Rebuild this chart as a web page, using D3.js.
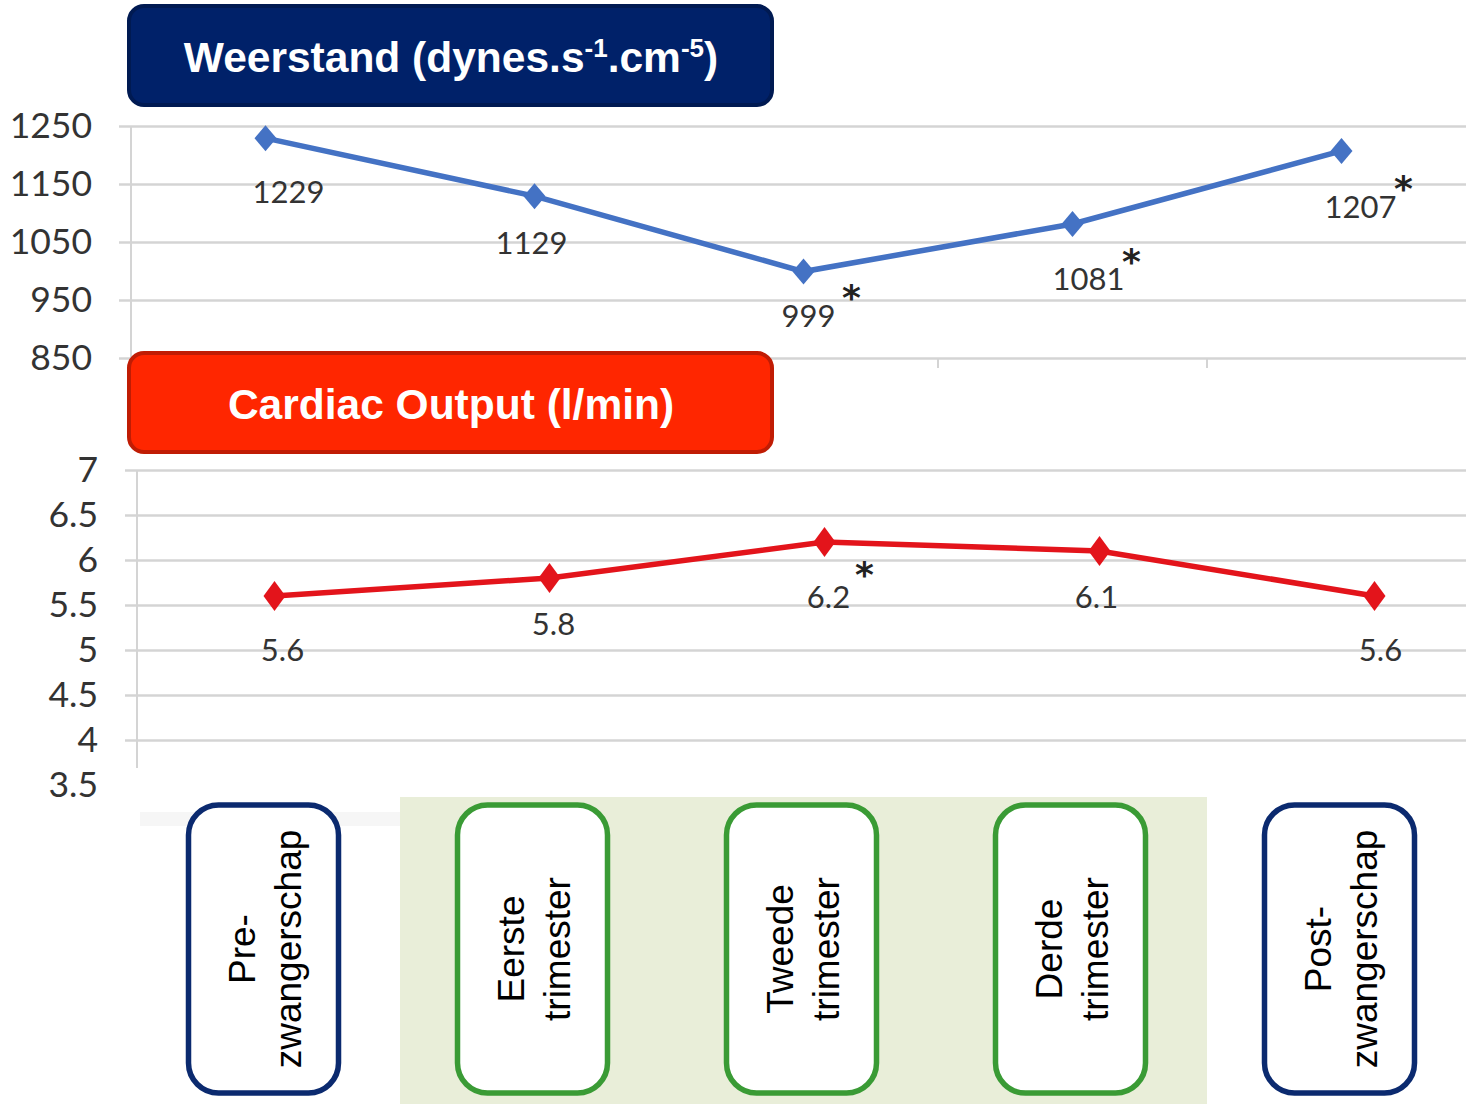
<!DOCTYPE html>
<html lang="nl">
<head>
<meta charset="utf-8">
<title>Weerstand en Cardiac Output</title>
<script src="https://d3js.org/d3.v7.min.js"></script>
<style>
  html, body { margin: 0; padding: 0; background: #fff; }
  .tick text { font-family: Lato, "Open Sans", sans-serif; font-size: 35.5px; fill: #333; }
  .lbl { font-family: Lato, "Open Sans", sans-serif; font-size: 31px; fill: #333; }
  .star { font-family: "DejaVu Sans", sans-serif; font-size: 36px; font-weight: bold; fill: #222; }
  .title { font-family: "Liberation Sans", Arial, sans-serif; font-weight: bold; font-size: 42.5px; fill: #fff; }
  .phase { font-family: "Liberation Sans", Arial, sans-serif; font-size: 37px; fill: #000; }
</style>
</head>
<body>
<svg id="chart" width="1466" height="1104"></svg>
<script>
// categories
var phases = ["Pre-zwangerschap", "Eerste trimester", "Tweede trimester", "Derde trimester", "Post-zwangerschap"];
var phaseLines = [["Pre-", "zwangerschap"], ["Eerste", "trimester"], ["Tweede", "trimester"], ["Derde", "trimester"], ["Post-", "zwangerschap"]];
var pregnant = [false, true, true, true, false];

// series
var weerstand = [1229, 1129, 999, 1081, 1207];
var weerstandSig = [false, false, true, true, true];
var output = [5.6, 5.8, 6.2, 6.1, 5.6];
var outputSig = [false, false, true, false, false];

// ticks
var weerstandTicks = [850, 950, 1050, 1150, 1250];
var outputTicks = [4, 4.5, 5, 5.5, 6, 6.5, 7];
var outputTickLabels = [3.5, 4, 4.5, 5, 5.5, 6, 6.5, 7];

var svg = d3.select("#chart");
var W = 1466;

// label nudges (layout only)
var topNudge = [[23, 53], [-3, 46], [5, 43], [16, 54], [19, 55]];
var botNudge = [[8, 53], [4, 45], [4, 54], [-3, 45], [6, 53]];

// ---------- top chart ----------
var x1 = d3.scaleBand().domain(phases).range([131, 1476]);
var y1 = d3.scaleLinear().domain([850, 1250]).range([358, 126]);

var g1 = svg.append("g");

// gridlines + tick labels
g1.append("g")
  .attr("transform", "translate(" + W + ",0)")
  .call(d3.axisLeft(y1).tickValues(weerstandTicks).tickSize(W - 119).tickPadding(27).tickFormat(d3.format("d")))
  .call(function(g) {
    g.select(".domain").remove();
    g.selectAll(".tick line").attr("stroke", "#d4d4d4").attr("stroke-width", 2.5);
  });

g1.append("line")
  .attr("x1", 131).attr("x2", 131).attr("y1", y1(1250)).attr("y2", y1(850))
  .attr("stroke", "#d4d4d4").attr("stroke-width", 2);

// category ticks below baseline
g1.selectAll(".xt").data(d3.range(phases.length + 1)).enter().append("line")
  .attr("x1", function(i) { return 131 + i * x1.bandwidth(); })
  .attr("x2", function(i) { return 131 + i * x1.bandwidth(); })
  .attr("y1", y1(850)).attr("y2", y1(850) + 10)
  .attr("stroke", "#d4d4d4").attr("stroke-width", 2);

var cx1 = function(i) { return x1(phases[i]) + x1.bandwidth() / 2; };

g1.append("path")
  .datum(weerstand)
  .attr("fill", "none")
  .attr("stroke", "#4472c4")
  .attr("stroke-width", 5.5)
  .attr("d", d3.line().x(function(d, i) { return cx1(i); }).y(function(d) { return y1(d); }));

g1.selectAll(".mk").data(weerstand).enter().append("path")
  .attr("d", "M0,-13L11,0L0,13L-11,0Z")
  .attr("fill", "#4472c4")
  .attr("transform", function(d, i) { return "translate(" + cx1(i) + "," + y1(d) + ")"; });

g1.selectAll(".lb").data(weerstand).enter().append("text")
  .attr("class", "lbl")
  .attr("text-anchor", "middle")
  .attr("dominant-baseline", "central")
  .attr("x", function(d, i) { return cx1(i) + topNudge[i][0]; })
  .attr("y", function(d, i) { return y1(d) + topNudge[i][1]; })
  .text(function(d) { return d; });

weerstand.forEach(function(d, i) {
  if (!weerstandSig[i]) return;
  g1.append("text")
    .attr("class", "star")
    .attr("text-anchor", "middle")
    .attr("dominant-baseline", "central")
    .attr("x", cx1(i) + topNudge[i][0] + 43)
    .attr("y", y1(d) + topNudge[i][1] - 17)
    .text("*");
});

// ---------- bottom chart ----------
var x2 = d3.scaleBand().domain(phases).range([137, 1512]);
var y2 = d3.scaleLinear().domain([3.5, 7]).range([785, 470]);

var g2 = svg.append("g");

g2.append("g")
  .attr("transform", "translate(" + W + ",0)")
  .call(d3.axisLeft(y2).tickValues(outputTickLabels).tickSize(W - 125).tickPadding(27).tickFormat(d3.format("")))
  .call(function(g) {
    g.select(".domain").remove();
    g.selectAll(".tick line").attr("stroke", "#d4d4d4").attr("stroke-width", 2.5)
      .attr("display", function(d) { return outputTicks.indexOf(d) < 0 ? "none" : null; });
  });

g2.append("line")
  .attr("x1", 137).attr("x2", 137).attr("y1", y2(7)).attr("y2", 768)
  .attr("stroke", "#d4d4d4").attr("stroke-width", 2);

var cx2 = function(i) { return x2(phases[i]) + x2.bandwidth() / 2; };

g2.append("path")
  .datum(output)
  .attr("fill", "none")
  .attr("stroke", "#e3141b")
  .attr("stroke-width", 5.5)
  .attr("d", d3.line().x(function(d, i) { return cx2(i); }).y(function(d) { return y2(d); }));

g2.selectAll(".mk").data(output).enter().append("path")
  .attr("d", "M0,-15L11,0L0,15L-11,0Z")
  .attr("fill", "#e3141b")
  .attr("transform", function(d, i) { return "translate(" + cx2(i) + "," + y2(d) + ")"; });

g2.selectAll(".lb").data(output).enter().append("text")
  .attr("class", "lbl")
  .attr("text-anchor", "middle")
  .attr("dominant-baseline", "central")
  .attr("x", function(d, i) { return cx2(i) + botNudge[i][0]; })
  .attr("y", function(d, i) { return y2(d) + botNudge[i][1]; })
  .text(function(d) { return d; });

output.forEach(function(d, i) {
  if (!outputSig[i]) return;
  g2.append("text")
    .attr("class", "star")
    .attr("text-anchor", "middle")
    .attr("dominant-baseline", "central")
    .attr("x", cx2(i) + botNudge[i][0] + 36)
    .attr("y", y2(d) + botNudge[i][1] - 22)
    .text("*");
});

// ---------- phase boxes ----------
var pregIdx = pregnant.map(function(p, i) { return p ? i : -1; }).filter(function(i) { return i >= 0; });
var bandLeft = x1(phases[pregIdx[0]]);
var bandRight = x1(phases[pregIdx[pregIdx.length - 1]]) + x1.bandwidth();

svg.append("rect")
  .attr("x", 140).attr("y", 812).attr("width", bandLeft - 140).attr("height", 14)
  .attr("fill", "#f6f6f6");

svg.append("rect")
  .attr("x", bandLeft).attr("y", 797).attr("width", bandRight - bandLeft).attr("height", 1104 - 797)
  .attr("fill", "#e9eed9");

var boxes = svg.selectAll(".phase-box").data(phases).enter().append("g")
  .attr("transform", function(d, i) { return "translate(" + (cx1(i) - 2) + ",949)"; });

boxes.append("rect")
  .attr("x", -75).attr("y", -144).attr("width", 150).attr("height", 288)
  .attr("rx", 30).attr("ry", 30)
  .attr("fill", "#fff")
  .attr("stroke", function(d, i) { return pregnant[i] ? "#3a9b35" : "#0b2a6f"; })
  .attr("stroke-width", 5.5);

var pt = boxes.append("text")
  .attr("class", "phase")
  .attr("text-anchor", "middle")
  .attr("transform", "rotate(-90)");

pt.selectAll("tspan").data(function(d, i) { return phaseLines[i]; }).enter().append("tspan")
  .attr("x", 0)
  .attr("y", function(d, j) { return j === 0 ? -9 : 37; })
  .text(function(d) { return d; });

// ---------- title boxes ----------
function titleBox(y, fill, stroke) {
  svg.append("rect")
    .attr("x", 129).attr("y", y).attr("width", 643).attr("height", 99)
    .attr("rx", 15).attr("ry", 15)
    .attr("fill", fill).attr("stroke", stroke).attr("stroke-width", 4);
}

titleBox(6, "#002169", "#001a52");
var t1 = svg.append("text").attr("class", "title").attr("x", 451).attr("y", 72).attr("text-anchor", "middle");
t1.append("tspan").text("Weerstand (dynes.s");
t1.append("tspan").attr("dy", -15).attr("font-size", 26).text("-1");
t1.append("tspan").attr("dy", 15).text(".cm");
t1.append("tspan").attr("dy", -15).attr("font-size", 26).text("-5");
t1.append("tspan").attr("dy", 15).text(")");

titleBox(353, "#ff2600", "#c01c04");
svg.append("text").attr("class", "title").attr("x", 451).attr("y", 419).attr("text-anchor", "middle")
  .text("Cardiac Output (l/min)");
</script>
</body>
</html>
